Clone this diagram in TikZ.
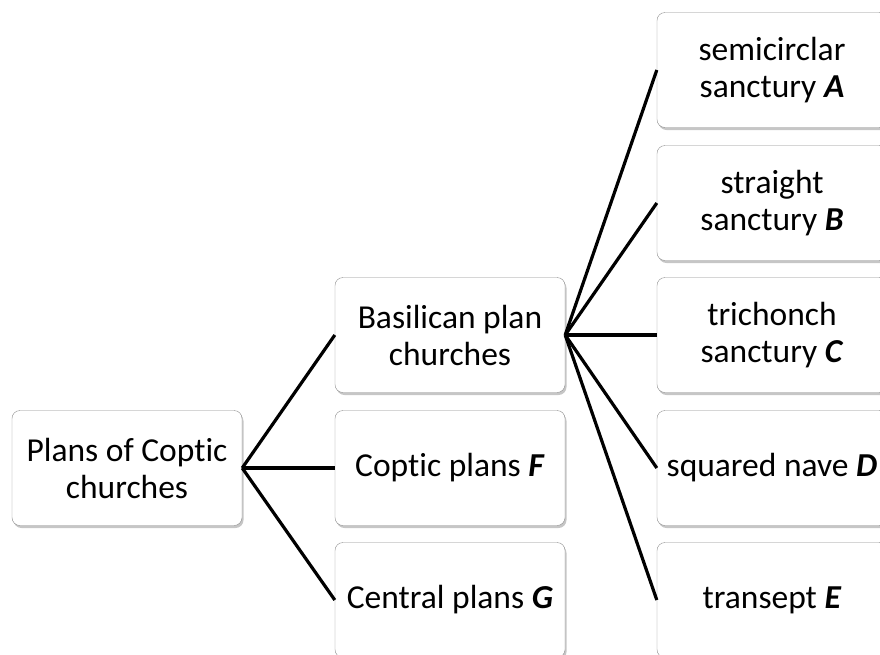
\documentclass[tikz,border=0pt]{standalone}
\usepackage{fontspec}
\setmainfont{Carlito}[Ligatures=NoCommon]
\usetikzlibrary{shadows}

% Cajas y ramas del diagrama
\tikzset{
  caja/.style={draw=gray!90, fill=white, rounded corners=8pt, inner sep=0pt,
    minimum width=230pt, minimum height=115pt, align=center,
    font=\fontsize{33.5}{37}\selectfont,
    drop shadow={shadow xshift=1.5pt, shadow yshift=-2.5pt, opacity=0.45}},
  rama/.style={line width=3.2pt, black}
}
\newcommand{\letra}[1]{\textbf{\textit{#1}}}

\begin{document}
\begin{tikzpicture}[x=1pt, y=-1pt]

            \useasboundingbox (0,0) rectangle (880,654);
            \clip (0,0) rectangle (880,654);

            % Raiz
            \node[caja] (planes) at (127,468) {Plans of Coptic\\churches};

            % Segunda columna
            \node[caja] (basilica) at (450,335) {Basilican plan\\churches};
            \node[caja] (copto) at (450,468) {Coptic plans \letra{F}};
            \node[caja] (central) at (450,600) {Central plans \letra{G}};

            % Tercera columna
            \node[caja] (semi) at (772,70) {semicirclar\\sanctury \letra{A}};
            \node[caja] (recto) at (772,203) {straight\\sanctury \letra{B}};
            \node[caja] (triconco) at (772,335) {trichonch\\sanctury \letra{C}};
            \node[caja] (nave) at (772,468) {squared nave \letra{D}};
            \node[caja] (transepto) at (772,600) {transept \letra{E}};

            % Ramas
            \foreach \n in {basilica, copto, central}
                \draw[rama] (planes.east) -- (\n.west);
            \foreach \n in {semi, recto, triconco, nave, transepto}
                \draw[rama] (basilica.east) -- (\n.west);
        \end{tikzpicture}
\end{document}
